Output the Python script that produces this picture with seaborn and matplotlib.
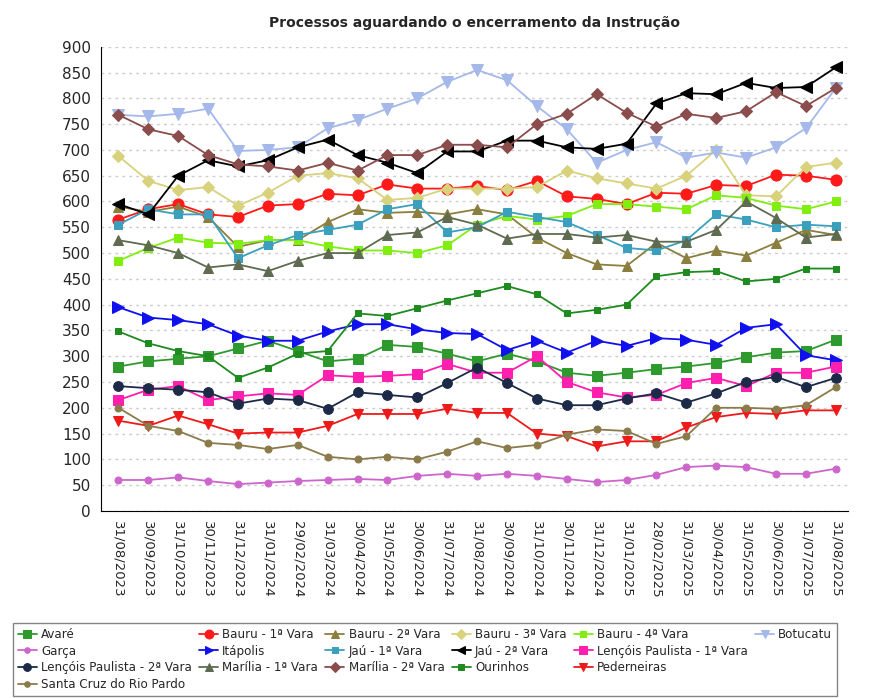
import matplotlib
matplotlib.use("Agg")
import matplotlib.pyplot as plt
from matplotlib.lines import Line2D
import seaborn as sns
import pandas as pd

dates = ["31/08/2023","30/09/2023","31/10/2023","30/11/2023","31/12/2023","31/01/2024","29/02/2024",
         "31/03/2024","30/04/2024","31/05/2024","30/06/2024","31/07/2024","31/08/2024","30/09/2024",
         "31/10/2024","30/11/2024","31/12/2024","31/01/2025","28/02/2025","31/03/2025","30/04/2025",
         "31/05/2025","30/06/2025","31/07/2025","31/08/2025"]

avare = [280,290,295,300,315,330,310,290,295,322,318,305,290,305,290,268,262,268,275,280,287,298,307,310,332]
bauru1 = [565,585,595,575,570,592,595,615,612,633,625,625,630,622,640,610,605,595,617,615,632,630,652,650,642]
bauru2 = [590,580,590,570,512,525,525,560,585,578,580,575,585,575,530,500,478,475,520,490,505,495,520,545,535]
bauru3 = [688,640,622,628,592,617,650,655,645,603,607,625,625,625,628,660,645,635,625,650,700,612,610,667,675]
bauru4 = [485,510,530,520,518,525,525,513,505,505,500,515,555,572,565,572,595,595,590,585,612,607,592,585,600]
botucatu = [768,765,770,780,698,700,705,742,758,780,800,832,855,835,785,740,675,700,715,685,695,685,705,742,820]
garca = [60,60,65,58,52,55,58,60,62,60,68,72,68,72,68,62,56,60,70,85,88,85,72,72,82]
itapolis = [395,375,370,362,340,330,330,348,362,362,352,345,343,312,330,307,330,320,335,332,322,355,362,302,292]
jau1 = [555,585,575,575,490,515,535,545,555,585,595,540,550,580,570,560,535,510,505,525,575,565,550,555,552]
jau2 = [595,575,650,680,668,680,705,720,690,675,655,697,697,718,718,705,702,712,790,810,808,830,820,822,860]
lencois1 = [215,235,242,215,222,228,225,263,260,262,265,285,268,268,300,250,230,220,225,248,258,242,268,268,280]
lencois2 = [242,238,235,230,208,218,215,198,230,225,220,248,278,248,218,205,205,218,228,210,228,250,260,240,258]
marilia1 = [525,515,500,472,478,465,485,500,500,535,540,570,555,528,537,537,530,535,522,522,545,600,568,530,537]
marilia2 = [768,740,727,690,672,668,660,675,660,690,690,710,710,705,750,770,808,772,745,770,762,775,812,785,820]
ourinhos = [348,325,310,300,258,278,305,310,383,378,393,408,422,436,420,383,390,400,455,463,465,445,450,470,470]
pederneiras = [175,165,185,168,150,152,152,165,188,188,188,198,190,190,150,145,125,135,135,162,182,190,188,195,195]
santacruz = [200,165,155,132,128,120,128,105,100,105,100,115,135,122,128,148,158,155,130,145,200,200,198,205,240]

series = [
    ("Avaré", avare, "#2e9a2e", "s", 7),
    ("Bauru - 1ª Vara", bauru1, "#ff1a1a", "o", 8),
    ("Bauru - 2ª Vara", bauru2, "#8a7f3e", "^", 7),
    ("Bauru - 3ª Vara", bauru3, "#d8d27c", "D", 6),
    ("Bauru - 4ª Vara", bauru4, "#80ee10", "s", 6),
    ("Botucatu", botucatu, "#a5b8ea", "v", 8),
    ("Garça", garca, "#cc66cc", "o", 5),
    ("Itápolis", itapolis, "#1010ee", ">", 8),
    ("Jaú - 1ª Vara", jau1, "#3aa0bd", "s", 6),
    ("Jaú - 2ª Vara", jau2, "#000000", "<", 8),
    ("Lençóis Paulista - 1ª Vara", lencois1, "#ff1faf", "s", 7),
    ("Lençóis Paulista - 2ª Vara", lencois2, "#1c2a48", "o", 7),
    ("Marília - 1ª Vara", marilia1, "#5f6b50", "^", 7),
    ("Marília - 2ª Vara", marilia2, "#8b4c4c", "D", 6),
    ("Ourinhos", ourinhos, "#1f8a1f", "s", 5),
    ("Pederneiras", pederneiras, "#ee1a1a", "v", 7),
    ("Santa Cruz do Rio Pardo", santacruz, "#8b7b4b", "o", 5),
]

sns.set_style("white")
fig = plt.figure(figsize=(8.74, 6.98), dpi=100)
ax = fig.add_axes([0.115, 0.268, 0.855, 0.665])
x = list(range(len(dates)))
for name, vals, col, mk, ms in series:
    df = pd.DataFrame({"x": x, "y": vals})
    sns.lineplot(data=df, x="x", y="y", ax=ax, color=col, marker=mk, markersize=ms,
                 markeredgecolor=col, linewidth=1.3, label=name)

ax.set_ylim(0, 900)
ax.set_yticks(range(0, 901, 50))
ax.set_xlim(-0.6, len(dates) - 0.6)
ax.set_xticks(x)
ax.set_xticklabels(dates, rotation=-90, fontsize=9.5)
ax.tick_params(axis="y", labelsize=11)
ax.set_xlabel("")
ax.set_ylabel("")
ax.yaxis.grid(True, linestyle=(0, (2, 3)), color="#cccccc", linewidth=1)
for s in ["top", "right"]:
    ax.spines[s].set_visible(False)
ax.spines["left"].set_color("black")
ax.spines["bottom"].set_color("black")
ax.set_title("Processos aguardando o encerramento da Instrução", fontsize=10, fontweight="bold", pad=14)
ax.get_legend().remove()
h, l = ax.get_legend_handles_labels()
blank = Line2D([], [], linestyle="none", marker=None)
rows = [list(range(0, 6)), list(range(6, 11)), list(range(11, 16)), [16]]
grid = [[(h[i], l[i]) for i in r] + [(blank, "")] * (6 - len(r)) for r in rows]
hh, ll = [], []
for c in range(6):
    for r in range(4):
        hh.append(grid[r][c][0]); ll.append(grid[r][c][1])
fig.legend(hh, ll, loc="lower left", bbox_to_anchor=(0.012, 0.0), ncol=6, fontsize=8.6,
           frameon=True, fancybox=False, edgecolor="#666666", handlelength=1.6,
           columnspacing=0.6, handletextpad=0.35, borderaxespad=0.2, labelspacing=0.3,
           markerscale=0.8)
fig.savefig("out.png", dpi=100)
